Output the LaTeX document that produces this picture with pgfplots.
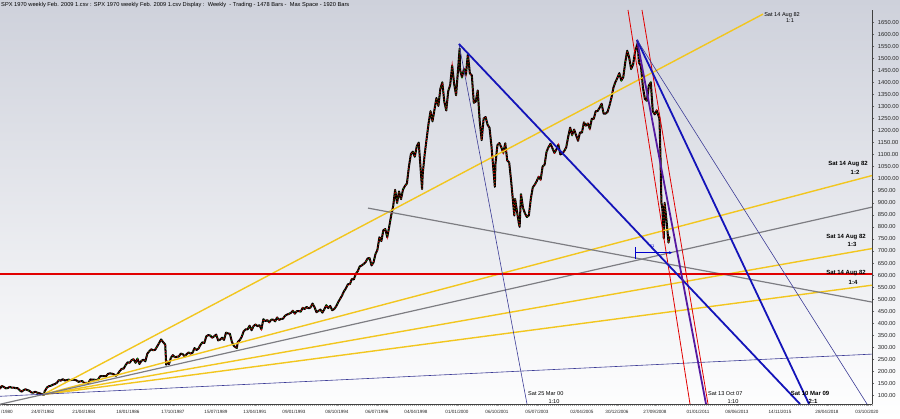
\documentclass[border=0pt]{standalone}
\usepackage{pgfplots}
\pgfplotsset{compat=1.18}
\usepackage{pgfplotstable}
\usepackage{fontspec}
\setmainfont{Liberation Sans}
\usetikzlibrary{arrows.meta}

\definecolor{bgtop}{RGB}{206,209,219}
\definecolor{gold}{RGB}{242,198,30}
\definecolor{fangray}{RGB}{125,125,130}
\definecolor{navythin}{RGB}{60,60,150}
\definecolor{thickblue}{RGB}{20,20,185}
\definecolor{violetl}{RGB}{85,25,160}
\definecolor{redl}{RGB}{225,0,0}
\definecolor{candred}{RGB}{205,0,0}
\definecolor{candgreen}{RGB}{0,150,0}

\pgfplotstableread{
y m c
1980 10 128
1980 11 140
1980 12 136
1981 1 130
1981 2 131
1981 3 136
1981 4 133
1981 5 133
1981 6 131
1981 7 131
1981 8 123
1981 9 116
1981 10 122
1981 11 126
1981 12 123
1982 1 120
1982 2 113
1982 3 112
1982 4 116
1982 5 112
1982 6 110
1982 7 107
1982 8.4 103
1982 8.8 118
1982 9 120
1982 10 134
1982 11 139
1982 12 141
1983 1 145
1983 2 148
1983 3 153
1983 4 164
1983 5 162
1983 6 168
1983 7 163
1983 8 164
1983 9 166
1983 10 164
1983 11 166
1983 12 165
1984 1 163
1984 2 157
1984 3 159
1984 4 160
1984 5 151
1984 6 153
1984 7 151
1984 8 167
1984 9 166
1984 10 166
1984 11 164
1984 12 167
1985 1 180
1985 2 181
1985 3 181
1985 4 180
1985 5 190
1985 6 192
1985 7 191
1985 8 188
1985 9 182
1985 10 190
1985 11 202
1985 12 211
1986 1 212
1986 2 227
1986 3 238
1986 4 236
1986 5 247
1986 6 251
1986 7 236
1986 8 253
1986 9 231
1986 10 244
1986 11 249
1986 12 242
1987 1 274
1987 2 284
1987 3 292
1987 4 288
1987 5 290
1987 6 304
1987 7 318
1987 8 333
1987 9 322
1987 10.1 312
1987 10.6 228
1987 11 242
1987 12 230
1988 1 257
1988 2 268
1988 3 259
1988 4 261
1988 5 262
1988 6 274
1988 7 272
1988 8 262
1988 9 272
1988 10 279
1988 11 274
1988 12 278
1989 1 297
1989 2 289
1989 3 295
1989 4 310
1989 5 321
1989 6 318
1989 7 346
1989 8 351
1989 9 349
1989 10 340
1989 11 346
1989 12 353
1990 1 329
1990 2 332
1990 3 340
1990 4 331
1990 5 361
1990 6 358
1990 7 356
1990 8 323
1990 9 306
1990 10.5 297
1990 11 322
1990 12 330
1991 1 344
1991 2 367
1991 3 375
1991 4 375
1991 5 390
1991 6 371
1991 7 388
1991 8 395
1991 9 388
1991 10 392
1991 11 375
1991 12 417
1992 1 409
1992 2 413
1992 3 404
1992 4 415
1992 5 415
1992 6 408
1992 7 424
1992 8 414
1992 9 418
1992 10 419
1992 11 431
1992 12 436
1993 1 439
1993 2 443
1993 3 452
1993 4 440
1993 5 450
1993 6 451
1993 7 448
1993 8 464
1993 9 459
1993 10 468
1993 11 462
1993 12 466
1994 1 482
1994 2 467
1994 3 446
1994 4 451
1994 5 457
1994 6 444
1994 7 458
1994 8 475
1994 9 463
1994 10 472
1994 11 454
1994 12 459
1995 1 470
1995 2 487
1995 3 501
1995 4 515
1995 5 533
1995 6 545
1995 7 562
1995 8 562
1995 9 584
1995 10 582
1995 11 605
1995 12 616
1996 1 636
1996 2 640
1996 3 646
1996 4 654
1996 5 669
1996 6 671
1996 7 640
1996 8 652
1996 9 687
1996 10 705
1996 11 757
1996 12 741
1997 1 786
1997 2 791
1997 3 757
1997 4 801
1997 5 848
1997 6 885
1997 7 954
1997 8 899
1997 9 947
1997 10 915
1997 11 955
1997 12 970
1998 1 980
1998 2 1049
1998 3 1102
1998 4 1112
1998 5 1091
1998 6 1134
1998 7 1150
1998 8.7 957
1998 9 1017
1998 10 1099
1998 11 1164
1998 12 1229
1999 1 1280
1999 2 1238
1999 3 1286
1999 4 1335
1999 5 1302
1999 6 1373
1999 7 1400
1999 8 1320
1999 9 1283
1999 10 1363
1999 11 1389
1999 12 1469
2000 1 1394
2000 2 1346
2000 3.8 1540
2000 4 1452
2000 5 1421
2000 6 1455
2000 7 1431
2000 8 1518
2000 9 1437
2000 10 1429
2000 11 1315
2000 12 1320
2001 1 1366
2001 2 1240
2001 3 1160
2001 4 1249
2001 5 1256
2001 6 1224
2001 7 1211
2001 8 1134
2001 9.7 966
2001 10 1060
2001 11 1139
2001 12 1148
2002 1 1130
2002 2 1107
2002 3 1147
2002 4 1076
2002 5 1067
2002 6 990
2002 7.6 847
2002 8 916
2002 9.9 815
2002 10.3 800
2002 11 936
2002 12 880
2003 1 856
2003 2 841
2003 3 848
2003 4 917
2003 5 964
2003 6 975
2003 7 990
2003 8 1008
2003 9 996
2003 10 1051
2003 11 1058
2003 12 1112
2004 1 1131
2004 2 1145
2004 3 1126
2004 4 1107
2004 5 1121
2004 6 1141
2004 7 1101
2004 8 1104
2004 9 1115
2004 10 1130
2004 11 1174
2004 12 1212
2005 1 1181
2005 2 1204
2005 3 1181
2005 4 1157
2005 5 1192
2005 6 1191
2005 7 1234
2005 8 1220
2005 9 1229
2005 10 1207
2005 11 1249
2005 12 1248
2006 1 1280
2006 2 1281
2006 3 1295
2006 4 1311
2006 5 1270
2006 6 1270
2006 7 1277
2006 8 1304
2006 9 1336
2006 10 1378
2006 11 1401
2006 12 1418
2007 1 1438
2007 2 1407
2007 3 1421
2007 4 1482
2007 5 1531
2007 6 1503
2007 7 1455
2007 8 1474
2007 9 1527
2007 10.3 1562
2007 11 1481
2007 12 1468
2008 1 1379
2008 2 1331
2008 3 1323
2008 4 1386
2008 5 1400
2008 6 1280
2008 7 1267
2008 8 1283
2008 9.4 1250
2008 9.9 1100
2008 10.4 900
2008 10.9 876
2008 11.6 752
2008 12 900
2009 1 826
2009 2 735
2009 2.5 760
}\spx

\begin{document}
\begin{tikzpicture}
\path[use as bounding box] (0pt,-14pt) rectangle (900pt,404pt);
\shade[top color=bgtop, bottom color=white] (0pt,-14pt) rectangle (900pt,404pt);
\begin{axis}[
  at={(0pt,0pt)}, anchor=south west,
  scale only axis, width=872pt, height=394pt,
  xmin=0, xmax=872, ymin=65, ymax=1700,
  axis x line=bottom, axis y line=right,
  axis line style={-, black!75, line width=0.5pt},
  tick align=outside,
  major tick length=2.3pt, minor tick length=2pt,
  /pgf/number format/assume math mode=true,
  xtick={7,43,84,128,173,216,255,294,337,377,416,457,497,537,582,617,655,698,737,780,827,867},
  xticklabels={/1980,24/07/1982,21/04/1984,18/01/1986,17/10/1987,15/07/1989,13/04/1991,09/01/1993,08/10/1994,06/07/1996,04/04/1998,01/01/2000,06/10/2001,05/07/2003,02/04/2005,30/12/2006,27/09/2008,01/01/2011,08/06/2013,14/11/2015,28/04/2018,03/10/2020},
  minor xtick={0,2,...,872},
  xticklabel style={font=\fontsize{4.6}{5}\selectfont, text=black!85},
  x tick style={black!35, line width=0.25pt},
  ytick={100,150,...,1650},
  yticklabel style={font=\fontsize{5.8}{6}\selectfont, text=black!85, /pgf/number format/.cd, fixed, fixed zerofill, precision=2, 1000 sep={}},
  y tick style={black!60, line width=0.3pt},
  clip=true,
]
% price series
\addplot[black, line width=2pt, line join=round] table[x expr={42.5+(\thisrow{y}+(\thisrow{m}-0.5)/12-1982.6)*23.6}, y=c]{\spx};
\addplot[candred, line width=1.1pt, dash pattern=on 0.8pt off 2.2pt] table[x expr={42.5+(\thisrow{y}+(\thisrow{m}-0.5)/12-1982.6)*23.6}, y=c]{\spx};
\addplot[candgreen, line width=1pt, dash pattern=on 0.5pt off 4.5pt, dash phase=1.5pt] table[x expr={42.5+(\thisrow{y}+(\thisrow{m}-0.5)/12-1982.6)*23.6}, y=c]{\spx};

% 1982 fan
\addplot[gold, line width=1.4pt] coordinates {(43,104) (763,1683)};
\addplot[gold, line width=1.4pt] coordinates {(43,104) (872,1013)};
\addplot[gold, line width=1.4pt] coordinates {(43,104) (872,710)};
\addplot[gold, line width=1.4pt] coordinates {(43,104) (872,558)};
\addplot[fangray, line width=1.2pt] coordinates {(0,64) (872,882)};
\addplot[navythin, line width=0.6pt] coordinates {(0,97) (872,272)};
% second gray line
\addplot[fangray, line width=1.2pt] coordinates {(368,878) (872,488)};
% horizontal red
\addplot[redl, line width=1.3pt] coordinates {(0,605) (872,605)};
% steep red lines
\addplot[redl, line width=0.8pt] coordinates {(628,1700) (690,65)};
\addplot[redl, line width=0.8pt] coordinates {(642,1700) (708,65)};
% 2000 peak lines
\addplot[navythin, line width=0.6pt] coordinates {(459,1559) (527,65)};
\addplot[thickblue, line width=1.8pt] coordinates {(459,1559) (800,65)};
% 2007 peak lines
\addplot[violetl, line width=1.8pt] coordinates {(637,1576) (706,65)};
\addplot[thickblue, line width=1.8pt] coordinates {(637,1576) (809,65)};
\addplot[navythin, line width=0.6pt] coordinates {(637,1576) (867,65)};
% small ruler
\addplot[blue!80!black, line width=0.6pt, -{Stealth[length=3pt,width=3pt]}] coordinates {(635,693) (672,693)};
\addplot[blue!80!black, line width=0.6pt] coordinates {(635,668) (635,716)};
\end{axis}

% title
\node[anchor=west, font=\fontsize{5.7}{6}\selectfont, inner sep=0pt] at (1pt,399.3pt) {SPX 1970 weekly Feb. 2009 1.csv : SPX 1970 weekly Feb. 2009 1.csv Display :\ \ Weekly\ \ - Trading - 1478 Bars -\ \ Max Space - 1920 Bars};

% annotations
\begin{scope}[every node/.style={inner sep=0pt, font=\fontsize{5.6}{6}\selectfont}]
\node at (782pt,389pt) {Sat 14 Aug 82};
\node at (790pt,383.5pt) {1:1};
\node[font=\bfseries\fontsize{6}{7}\selectfont] at (848pt,240pt) {Sat 14 Aug 82};
\node[font=\bfseries\fontsize{6}{7}\selectfont] at (855pt,232pt) {1:2};
\node[font=\bfseries\fontsize{6}{7}\selectfont] at (846pt,167pt) {Sat 14 Aug 82};
\node[font=\bfseries\fontsize{6}{7}\selectfont] at (852pt,160pt) {1:3};
\node[font=\bfseries\fontsize{6}{7}\selectfont] at (846pt,131pt) {Sat 14 Aug 82};
\node[font=\bfseries\fontsize{6}{7}\selectfont] at (853pt,122pt) {1:4};
\node[anchor=west] at (528pt,10pt) {Sat 25 Mar 00};
\node at (554pt,2pt) {1:10};
\node[anchor=west] at (708pt,10pt) {Sat 13 Oct 07};
\node at (733pt,2pt) {1:10};
\node[font=\bfseries\fontsize{6}{7}\selectfont] at (810pt,11pt) {Sat 10 Mar 09};
\node[font=\bfseries\fontsize{6}{7}\selectfont] at (813pt,3pt) {2:1};
\node[font=\fontsize{4}{4}\selectfont, text=blue!80!black] at (652pt,158pt) {61};
\end{scope}
\end{tikzpicture}
\end{document}
